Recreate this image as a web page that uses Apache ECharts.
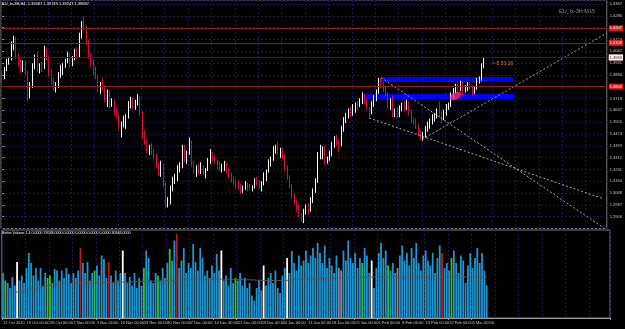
<!DOCTYPE html>
<html><head><meta charset="utf-8">
<script src="https://cdn.jsdelivr.net/npm/echarts@6/dist/echarts.min.js"></script>
<style>html,body{margin:0;padding:0;background:#000;}#c{width:625px;height:329px;}</style>
</head><body><div id="c"></div>
<script>
// ---- tick labels (one every 10 bars) ----
const dateLabels = ['12 Oct 2010','19 Oct 00:00','26 Oct 00:00','2 Nov 00:00','9 Nov 00:00','16 Nov 00:00','23 Nov 00:00','30 Nov 00:00','7 Dec 00:00','14 Dec 00:00','21 Dec 00:00','28 Dec 00:00','4 Jan 00:00','11 Jan 00:00','18 Jan 00:00','25 Jan 00:00','1 Feb 00:00','8 Feb 00:00','15 Feb 00:00','22 Feb 00:00','1 Mar 00:00'];
const barsPerLabel = 10;
const totalSlots = 259;

// ---- candles (EUR/USD) ----
const opens = [1.3880,1.3860,1.3920,1.3975,1.3990,1.4095,1.4120,1.4010,1.3960,1.3910,
1.3950,1.3900,1.3730,1.3800,1.3940,1.4000,1.3920,1.3940,1.3930,1.4050,
1.4000,1.3890,1.3840,1.3790,1.3800,1.3880,1.3920,1.3950,1.3975,1.4010,
1.3950,1.3990,1.4040,1.4010,1.4150,1.4230,1.4210,1.4100,1.4020,1.3950,
1.3920,1.3870,1.3780,1.3810,1.3790,1.3720,1.3760,1.3680,1.3700,1.3620,
1.3600,1.3520,1.3540,1.3580,1.3590,1.3680,1.3700,1.3660,1.3690,1.3720,
1.3620,1.3460,1.3420,1.3360,1.3380,1.3350,1.3330,1.3260,1.3220,1.3260,
1.3130,1.2990,1.3000,1.3100,1.3160,1.3180,1.3240,1.3250,1.3390,1.3300,
1.3340,1.3420,1.3270,1.3230,1.3240,1.3220,1.3250,1.3210,1.3230,1.3290,
1.3340,1.3310,1.3290,1.3250,1.3240,1.3250,1.3270,1.3220,1.3190,1.3160,
1.3150,1.3130,1.3110,1.3080,1.3100,1.3130,1.3110,1.3100,1.3110,1.3150,
1.3140,1.3120,1.3130,1.3190,1.3220,1.3280,1.3300,1.3370,1.3380,1.3350,
1.3360,1.3320,1.3240,1.3180,1.3120,1.3050,1.3000,1.2960,1.2910,1.2890,
1.2940,1.2970,1.2950,1.3020,1.3080,1.3150,1.3340,1.3360,1.3380,1.3290,
1.3300,1.3340,1.3400,1.3440,1.3410,1.3400,1.3500,1.3570,1.3600,1.3630,
1.3620,1.3650,1.3680,1.3670,1.3700,1.3740,1.3700,1.3650,1.3620,1.3680,
1.3710,1.3760,1.3840,1.3810,1.3780,1.3750,1.3670,1.3700,1.3610,1.3630,
1.3600,1.3650,1.3670,1.3660,1.3690,1.3620,1.3570,1.3560,1.3530,1.3480,
1.3460,1.3470,1.3510,1.3540,1.3560,1.3590,1.3600,1.3630,1.3610,1.3580,
1.3620,1.3660,1.3670,1.3740,1.3770,1.3800,1.3790,1.3820,1.3770,1.3790,
1.3810,1.3800,1.3760,1.3790,1.3840,1.3850,1.3940];
const highs = [1.3905,1.3935,1.3990,1.4005,1.4110,1.4150,1.4140,1.4030,1.3990,1.3980,
1.3975,1.3910,1.3830,1.3960,1.4020,1.4040,1.3960,1.3970,1.4080,1.4070,
1.4010,1.3920,1.3860,1.3830,1.3900,1.3950,1.3960,1.3990,1.4040,1.4030,
1.4010,1.4060,1.4070,1.4170,1.4250,1.4282,1.4220,1.4120,1.4030,1.3990,
1.3940,1.3880,1.3830,1.3860,1.3800,1.3780,1.3770,1.3720,1.3710,1.3660,
1.3610,1.3560,1.3600,1.3610,1.3700,1.3730,1.3720,1.3710,1.3750,1.3730,
1.3630,1.3500,1.3440,1.3400,1.3410,1.3370,1.3340,1.3280,1.3290,1.3270,
1.3140,1.3040,1.3120,1.3180,1.3200,1.3260,1.3280,1.3400,1.3400,1.3360,
1.3450,1.3430,1.3290,1.3260,1.3270,1.3280,1.3260,1.3240,1.3310,1.3370,
1.3350,1.3330,1.3300,1.3290,1.3270,1.3290,1.3280,1.3240,1.3210,1.3180,
1.3170,1.3160,1.3130,1.3120,1.3150,1.3140,1.3130,1.3120,1.3170,1.3180,
1.3160,1.3150,1.3210,1.3230,1.3300,1.3320,1.3390,1.3400,1.3420,1.3380,
1.3380,1.3340,1.3260,1.3190,1.3130,1.3070,1.3020,1.2990,1.2930,1.2960,
1.2990,1.3000,1.3040,1.3100,1.3170,1.3350,1.3400,1.3390,1.3390,1.3320,
1.3360,1.3420,1.3460,1.3470,1.3440,1.3530,1.3590,1.3620,1.3650,1.3660,
1.3680,1.3690,1.3700,1.3720,1.3760,1.3750,1.3720,1.3660,1.3700,1.3740,
1.3780,1.3860,1.3862,1.3830,1.3800,1.3760,1.3720,1.3740,1.3650,1.3660,
1.3670,1.3690,1.3700,1.3710,1.3700,1.3640,1.3590,1.3580,1.3540,1.3500,
1.3490,1.3530,1.3560,1.3580,1.3610,1.3620,1.3650,1.3700,1.3630,1.3640,
1.3680,1.3690,1.3760,1.3790,1.3820,1.3830,1.3840,1.3840,1.3810,1.3830,
1.3830,1.3810,1.3800,1.3860,1.3870,1.3960,1.3997];
const lows = [1.3830,1.3850,1.3905,1.3950,1.3980,1.4050,1.3990,1.3940,1.3890,1.3900,
1.3880,1.3700,1.3720,1.3790,1.3920,1.3900,1.3890,1.3900,1.3920,1.3980,
1.3870,1.3810,1.3770,1.3760,1.3790,1.3860,1.3880,1.3930,1.3960,1.3930,
1.3940,1.3980,1.3990,1.4000,1.4130,1.4190,1.4080,1.3990,1.3930,1.3880,
1.3850,1.3760,1.3750,1.3770,1.3690,1.3660,1.3650,1.3660,1.3600,1.3580,
1.3500,1.3450,1.3520,1.3510,1.3580,1.3650,1.3640,1.3640,1.3670,1.3600,
1.3440,1.3400,1.3340,1.3330,1.3330,1.3300,1.3240,1.3190,1.3180,1.3110,
1.2968,1.2970,1.2990,1.3080,1.3130,1.3150,1.3210,1.3240,1.3280,1.3270,
1.3330,1.3250,1.3200,1.3180,1.3190,1.3200,1.3190,1.3170,1.3220,1.3270,
1.3290,1.3270,1.3230,1.3220,1.3210,1.3220,1.3200,1.3170,1.3140,1.3120,
1.3100,1.3090,1.3060,1.3070,1.3090,1.3080,1.3090,1.3080,1.3100,1.3120,
1.3100,1.3080,1.3120,1.3150,1.3210,1.3250,1.3290,1.3340,1.3330,1.3310,
1.3300,1.3220,1.3160,1.3100,1.3030,1.2990,1.2940,1.2900,1.2870,1.2861,
1.2920,1.2920,1.2940,1.3000,1.3070,1.3140,1.3300,1.3300,1.3260,1.3270,
1.3290,1.3320,1.3380,1.3390,1.3350,1.3390,1.3490,1.3550,1.3580,1.3590,
1.3600,1.3620,1.3640,1.3660,1.3680,1.3680,1.3640,1.3580,1.3610,1.3660,
1.3700,1.3750,1.3790,1.3760,1.3730,1.3650,1.3640,1.3590,1.3590,1.3580,
1.3590,1.3630,1.3630,1.3640,1.3600,1.3550,1.3540,1.3510,1.3460,1.3430,
1.3430,1.3450,1.3490,1.3510,1.3540,1.3560,1.3580,1.3590,1.3560,1.3570,
1.3600,1.3640,1.3660,1.3710,1.3750,1.3750,1.3770,1.3740,1.3760,1.3770,
1.3780,1.3740,1.3750,1.3780,1.3820,1.3840,1.3925];
const closes = [1.3860,1.3920,1.3975,1.3990,1.4095,1.4120,1.4010,1.3960,1.3910,1.3950,
1.3900,1.3730,1.3800,1.3940,1.4000,1.3920,1.3940,1.3930,1.4050,1.4000,
1.3890,1.3840,1.3790,1.3800,1.3880,1.3920,1.3950,1.3975,1.4010,1.3950,
1.3990,1.4040,1.4010,1.4150,1.4230,1.4210,1.4100,1.4020,1.3950,1.3920,
1.3870,1.3780,1.3810,1.3790,1.3720,1.3760,1.3680,1.3700,1.3620,1.3600,
1.3520,1.3540,1.3580,1.3590,1.3680,1.3700,1.3660,1.3690,1.3720,1.3620,
1.3460,1.3420,1.3360,1.3380,1.3350,1.3330,1.3260,1.3220,1.3260,1.3130,
1.2990,1.3000,1.3100,1.3160,1.3180,1.3240,1.3250,1.3390,1.3300,1.3340,
1.3420,1.3270,1.3230,1.3240,1.3220,1.3250,1.3210,1.3230,1.3290,1.3340,
1.3310,1.3290,1.3250,1.3240,1.3250,1.3270,1.3220,1.3190,1.3160,1.3150,
1.3130,1.3110,1.3080,1.3100,1.3130,1.3110,1.3100,1.3110,1.3150,1.3140,
1.3120,1.3130,1.3190,1.3220,1.3280,1.3300,1.3370,1.3380,1.3350,1.3360,
1.3320,1.3240,1.3180,1.3120,1.3050,1.3000,1.2960,1.2910,1.2890,1.2940,
1.2970,1.2950,1.3020,1.3080,1.3150,1.3340,1.3360,1.3380,1.3290,1.3300,
1.3340,1.3400,1.3440,1.3410,1.3400,1.3500,1.3570,1.3600,1.3630,1.3620,
1.3650,1.3680,1.3670,1.3700,1.3740,1.3700,1.3650,1.3620,1.3680,1.3710,
1.3760,1.3840,1.3810,1.3780,1.3750,1.3670,1.3700,1.3610,1.3630,1.3600,
1.3650,1.3670,1.3660,1.3690,1.3620,1.3570,1.3560,1.3530,1.3480,1.3460,
1.3470,1.3510,1.3540,1.3560,1.3590,1.3600,1.3630,1.3610,1.3580,1.3620,
1.3660,1.3670,1.3740,1.3770,1.3800,1.3790,1.3820,1.3770,1.3790,1.3810,
1.3800,1.3760,1.3790,1.3840,1.3850,1.3940,1.3969];

// ---- Better Volume (thousands) ----
const volumes = [18,15,14,12,16.4,13,22.4,15,17,14,
20,26,22,17,20,15,20,13,18,16,
17,14,19.6,19,15,19,16,20,17.6,14,
18,16,19,28,22,18,22.4,15,18,19,
21,17,25,23.6,16,22.4,17,14,19,15,
18,27,18,14,16.4,13,18,12,16,13,
20,27,24,15,14,18,17,15,20,16,
22,27.6,23,31,33.6,20,23,28,18,22,
20,29.6,22.4,19,28,24,17,19,16,21,
18,25.6,19,27,15,17,13,20,14,16,
15,18,13,16,12,14,9,7,12,15,
11,21,13,16,18,14,19,12,10,17,
20,24,18,26.8,22,19,25,21,23,27,
22,25,28,24,30,26,22,29,20,24,
21,18,25,20,19,27,23,31,24,22,
26,20,24,22,28,25,18,23,12,20,
26,30,24,27,21,19,22,18,20,25,
29,23,26,21,28,24,30,22,19,25,
27,23,21,26,18,24,29,26,20,22,
19,24,27,22,18,25,23,14,21,26,
20,24,28,22,26,19,13];
// b = normal, g = low churn, r = climax, w = climax high, d = churn
const volTypes = ('bgbbbbwbbb'+'bbbbbbbbbg'+'gbbbbbbbbb'+'bbbrbbbbbg'+'bbbbbrbbbb'+'bwbbbbbbbb'+'gbbbbbgbbb'+'bgbbrbbbbb'+'bbbbbbbbbb'+'bbbwbbbbbg'+
 'bbbbbbbbbb'+'bwbbbbbbbb'+'bwbbbbbbbb'+'bbbbbbbbbb'+'bbbddbbbbb'+'bbbgbbbwbb'+'bbbbgbbbdb'+'bbbbbbbbbb'+'bbbbbbbrbb'+'bgbbbbbbbb'+'bbbbbbb').split('');
const volMA = [9.2,9.4,9.6,9.8,10.0,10.2,10.4,10.6,10.8,11.0,
11.2,11.4,11.6,11.8,12.0,12.2,12.4,12.6,12.8,13.0,
13.1,13.2,13.3,13.4,13.5,13.6,13.7,13.8,13.8,13.9,
13.9,14.0,14.0,14.0,14.1,14.1,14.1,14.1,14.1,14.1,
14.1,14.1,14.2,14.2,14.2,14.2,14.2,14.3,14.3,14.3,
14.3,14.4,14.4,14.4,14.4,14.5,14.5,14.5,14.5,14.6,
14.6,14.6,14.7,14.7,14.7,14.8,14.8,14.8,14.9,14.9,
15.0,15.0,15.1,15.1,15.2,15.2,15.3,15.3,15.4,15.4,
15.5,15.5,15.5,15.6,15.6,15.6,15.6,15.6,15.6,15.6,
15.6,15.6,15.6,15.6,15.6,15.5,15.5,15.5,15.5,15.5,
15.4,15.4,15.4,15.3,15.3,15.3,15.2,15.2,15.1,15.1,
15.0,15.0,15.0,15.0,15.0,15.0,15.0,15.0,15.0,15.0,
15.0,15.1,15.1,15.2,15.2,15.3,15.3,15.4,15.4,15.5,
15.5,15.6,15.6,15.7,15.7,15.8,15.8,15.9,15.9,16.0,
16.0,16.0,16.1,16.1,16.1,16.1,16.2,16.2,16.2,16.2,
16.2,16.3,16.3,16.3,16.3,16.3,16.3,16.4,16.4,16.4,
16.4,16.4,16.4,16.4,16.4,16.4,16.4,16.4,16.4,16.4,
16.4,16.4,16.4,16.4,16.4,16.4,16.4,16.4,16.4,16.4,
16.4,16.4,16.4,16.4,16.4,16.4,16.4,16.4,16.4,16.4,
16.4,16.4,16.4,16.4,16.4,16.4,16.4,16.4,16.4,16.4,
16.4,16.4,16.4,16.4,16.4,16.4,16.4];

// ---- drawn objects (bar index, price) ----
const levelLines = [1.4207, 1.4109, 1.3994, 1.3804];
const bidPrice = 1.3969;
const trendLines = [
  [[157, 1.3584], [257.2, 1.3028]],
  [[162, 1.3862], [257.2, 1.2829]],
  [[179.5, 1.3437], [258.5, 1.4168]]
];
const bands = [
  [[162, 1.3866], [218.5, 1.3832]],
  [[154.5, 1.3749], [219, 1.3715]]
];
const ellipsePoint = [194, 1.3736];

const font = '"Liberation Sans", Arial, sans-serif';
const grid = '#1c1c4c';
const cats = Array.from({length: totalSlots}, (_, i) => String(i));
const candleData = opens.map((o, i) => [o, closes[i], lows[i], highs[i]]);
const volColors = {b: '#1e96d2', g: '#2ec82e', r: '#b81c1c', w: '#ffffff', d: '#8a8aa0'};
const volData = volumes.map((v, i) => ({value: v, itemStyle: {color: volColors[volTypes[i]]}}));
const isLabelIdx = i => i % barsPerLabel === 0 && i / barsPerLabel < dateLabels.length;
const isGridIdx = i => i % barsPerLabel === 0;

const chart = echarts.init(document.getElementById('c'), null, {renderer: 'canvas', width: 625, height: 329});
chart.setOption({
  backgroundColor: '#000000',
  animation: false,
  title: [
    {text: 'EU_fx-3H,H4  1.39687 1.39749 1.39247 1.39687', left: 2, top: 2, padding: 0,
     textStyle: {color: '#ffffff', fontSize: 4, fontWeight: 'normal', fontFamily: font}},
    {text: 'EU_fx-3H M15', left: 559, top: 8, padding: 0,
     textStyle: {color: '#8c8c8c', fontSize: 5.5, fontWeight: 'normal', fontFamily: font}},
    {text: '<-5:53:26', left: 492, top: 61, padding: 0,
     textStyle: {color: '#c8785a', fontSize: 5, fontWeight: 'normal', fontFamily: font}},
    {text: 'Better Volume 1.4 0.0000 19538.0000 0.0000 0.0000 0.0000 0.0000 30646.0000', left: 2, top: 231, padding: 0,
     textStyle: {color: '#ffffff', fontSize: 3.6, fontWeight: 'normal', fontFamily: font}}
  ],
  grid: [
    {left: 1, right: 15, top: 0, height: 228.5, show: true, borderColor: '#7a7a7a', borderWidth: 1},
    {left: 1, right: 15, top: 230, height: 88, show: true, borderColor: '#7a7a7a', borderWidth: 1}
  ],
  xAxis: [
    {type: 'category', gridIndex: 0, data: cats, boundaryGap: true,
     axisLine: {show: false}, axisTick: {show: false}, axisLabel: {show: false},
     splitLine: {show: true, interval: (i) => isGridIdx(i), lineStyle: {color: grid, type: [2, 2]}}},
    {type: 'category', gridIndex: 1, data: cats, boundaryGap: true,
     axisLine: {show: true, lineStyle: {color: '#9a9a9a'}},
     axisTick: {show: true, interval: (i) => isLabelIdx(i), length: 2, lineStyle: {color: '#9a9a9a'}},
     axisLabel: {show: true, interval: (i) => isLabelIdx(i), formatter: (v, i) => dateLabels[i / barsPerLabel] || '',
       color: '#c8c8c8', fontSize: 4, fontFamily: font, align: 'left', margin: 3},
     splitLine: {show: true, interval: (i) => isGridIdx(i), lineStyle: {color: grid, type: [2, 2]}}},
    {type: 'value', gridIndex: 0, min: -0.5, max: totalSlots - 0.5, show: false}
  ],
  yAxis: [
    {type: 'value', gridIndex: 0, position: 'right', min: 1.282486, max: 1.4395, interval: 0.008117,
     axisLine: {show: false}, axisTick: {show: true, length: 2, lineStyle: {color: '#9a9a9a'}},
     axisLabel: {color: '#c8c8c8', fontSize: 4, fontFamily: font, margin: 3, showMinLabel: false, showMaxLabel: false,
       formatter: v => v.toFixed(4)},
     splitLine: {show: true, lineStyle: {color: grid, type: [2, 2]}}},
    {type: 'value', gridIndex: 1, position: 'right', min: 0, max: 35.2,
     axisLine: {show: false}, axisTick: {show: false}, axisLabel: {show: false}, splitLine: {show: false}}
  ],
  series: [
    {type: 'line', xAxisIndex: 2, yAxisIndex: 0, data: [], silent: true, z: 1,
     markArea: {silent: true, itemStyle: {color: '#0000ff', opacity: 1},
       data: bands.map(b => [{coord: b[0]}, {coord: b[1]}])}},
    {type: 'candlestick', xAxisIndex: 0, yAxisIndex: 0, data: candleData, barWidth: 0.6, z: 3,
     itemStyle: {color: '#ffffff', color0: '#d0103c', borderColor: '#ffffff', borderColor0: '#d0103c', borderWidth: 1},
     markLine: {silent: true, symbol: ['none', 'none'], animation: false,
       data: levelLines.map(v => ({yAxis: v, lineStyle: {color: '#8c1e1e', width: 1, type: 'solid'},
           label: {show: true, position: 'end', distance: 2, formatter: () => v.toFixed(4), color: '#ffffff',
             backgroundColor: '#e01818', fontSize: 4, fontFamily: font, padding: [1, 1]}}))
         .concat([{yAxis: bidPrice, lineStyle: {color: '#22226a', width: 1, type: 'solid'},
           label: {show: true, position: 'end', distance: 2, formatter: () => bidPrice.toFixed(4), color: '#000000',
             backgroundColor: '#ffffff', fontSize: 4, fontFamily: font, padding: [1, 1]}}])}},
    {type: 'lines', coordinateSystem: 'cartesian2d', xAxisIndex: 2, yAxisIndex: 0, z: 4, silent: true,
     data: trendLines.map(t => ({coords: t})),
     lineStyle: {color: '#c8c8c8', width: 1, type: [2, 2], opacity: 0.85}},
    {type: 'scatter', xAxisIndex: 2, yAxisIndex: 0, z: 5, silent: true, data: [ellipsePoint],
     symbol: 'circle', symbolSize: [13, 7], symbolRotate: 30, itemStyle: {color: '#ff2a5e'}},
    {type: 'bar', xAxisIndex: 1, yAxisIndex: 1, data: volData, barWidth: 1.8, z: 2},
    {type: 'line', xAxisIndex: 1, yAxisIndex: 1, data: volMA, symbol: 'none', z: 3,
     lineStyle: {color: '#5c5252', width: 1}}
  ]
});
</script>
</body></html>
